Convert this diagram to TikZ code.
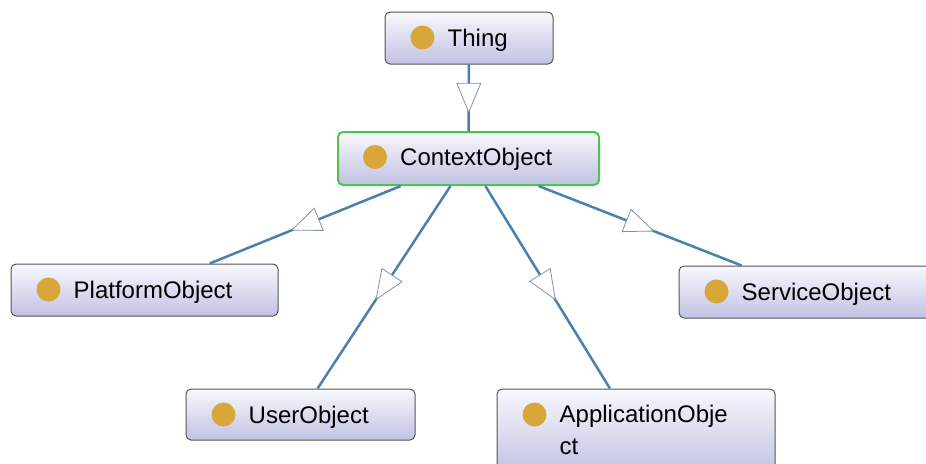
\documentclass[tikz,border=0pt]{standalone}
\usepackage{fontspec}
\setmainfont{Liberation Sans}
\usetikzlibrary{decorations.markings}

\definecolor{edgeblue}{HTML}{4A80AE}
\definecolor{tipgray}{HTML}{7F93A8}
\definecolor{boxtop}{HTML}{F8F8FD}
\definecolor{boxbottom}{HTML}{C1C2E3}
\definecolor{boxline}{HTML}{555555}
\definecolor{selgreen}{HTML}{4CC54C}
\definecolor{dotgold}{HTML}{D9A63A}

% class box: #1 name, #2 centre, #3 width, #4 height, #5 label,
% #6 extra box style, #7 baseline of the label's last line below the box top
\newcommand\ontoclass[7]{%
  \node[classbox, minimum width=#3pt, minimum height=#4pt, #6] (#1) at (#2) {};
  \node[classdot] (#1dot) at ([xshift=38pt, yshift=-26pt]#1.north west) {};
  \node[classname, anchor=base west] (#1label)
       at ([xshift=63pt, yshift=-#7pt]#1.north west) {#5};
}

\begin{document}
\begin{tikzpicture}[x=1pt, y=-1pt,
  classbox/.style={draw=boxline, line width=1pt, rounded corners=5pt,
                   top color=boxtop, bottom color=boxbottom, inner sep=0pt},
  selected/.style={draw=selgreen, line width=2pt},
  classdot/.style={circle, fill=dotgold, minimum size=24pt, inner sep=0pt},
  classname/.style={inner sep=0pt, font=\fontsize{24}{32}\selectfont,
                    text=black, align=left},
  subclass/.style={draw=edgeblue, line width=2.5pt, postaction={decorate},
    decoration={markings, mark=at position 0.5 with {%
      \draw[draw=tipgray, line width=0.8pt, fill=white, line join=miter]
        (-14.5pt,-12pt) -- (14.5pt,0pt) -- (-14.5pt,12pt) -- cycle;}}}
]
\useasboundingbox (0,0) rectangle (926,463);
\clip (0,0) rectangle (926,463);

\ontoclass{thing}{469,38}{168}{52}{Thing}{}{34.5}
\ontoclass{context}{468.5,158.5}{261}{53}{ContextObject}{selected}{34.5}
\ontoclass{platform}{144.5,290}{267}{52}{PlatformObject}{}{34.5}
\ontoclass{service}{809,292}{260}{52}{ServiceObject}{}{34.5}
\ontoclass{user}{300.5,414.5}{229}{51}{UserObject}{}{34.5}
\ontoclass{application}{636,431}{278}{84}{ApplicationObje\\ct}{}{65.5}

% subclass links, arrowhead pointing at the subclass
\draw[subclass] (thing) -- (context);
\draw[subclass] (context) -- (platform);
\draw[subclass] (context) -- (user);
\draw[subclass] (context) -- (application);
\draw[subclass] (context) -- (service);
\end{tikzpicture}
\end{document}
